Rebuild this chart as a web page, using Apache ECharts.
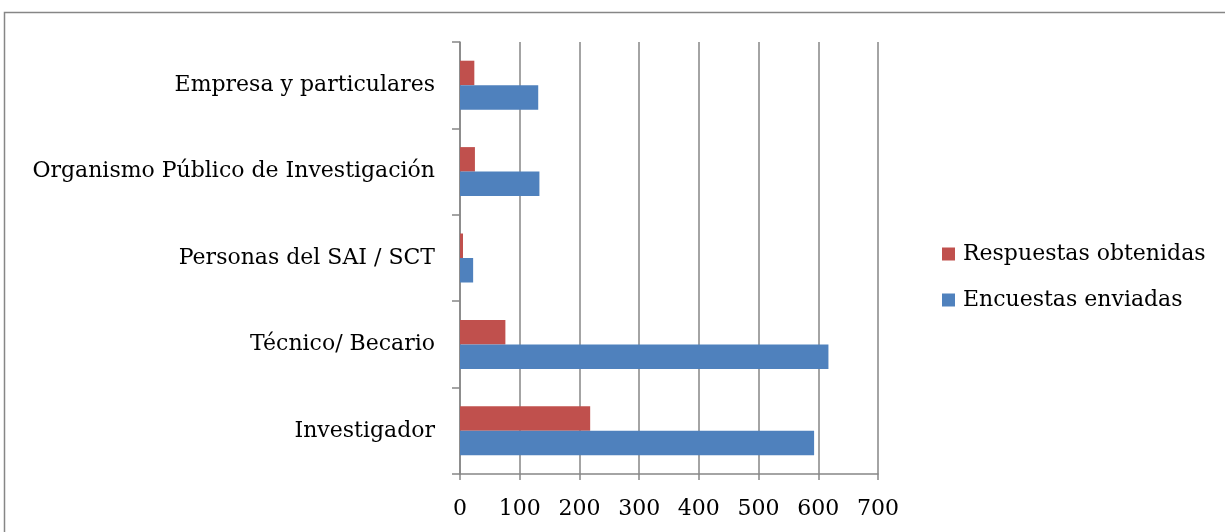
<!DOCTYPE html>
<html><head><meta charset="utf-8">
<script src="https://cdn.jsdelivr.net/npm/echarts@6/dist/echarts.min.js"></script>
<style>html,body{margin:0;padding:0;background:#fff}#c{width:1225px;height:532px}</style>
</head><body><div id="c"></div>
<script>
const categories = ['Investigador', 'Técnico/ Becario', 'Personas del SAI / SCT', 'Organismo Público de Investigación', 'Empresa y particulares'];
const respuestas = [218, 76, 5, 25, 24];
const encuestas = [593, 617, 22, 133, 131];
const xTicks = [0, 700, 100];

const chart = echarts.init(document.getElementById('c'), null, {renderer: 'canvas'});
const font = 'DejaVu Serif';
const grey = '#868686';
chart.setOption({
  animation: false,
  graphic: [{type: 'rect', shape: {x: 4.5, y: 12.5, width: 1400, height: 700}, style: {fill: 'none', stroke: grey, lineWidth: 1.5}}],
  legend: {
    orient: 'vertical', left: 937, top: 238, itemGap: 24, itemWidth: 13, itemHeight: 13,
    icon: 'rect',
    textStyle: {fontFamily: font, fontSize: 22, color: '#000', padding: [0, 0, 0, 3]},
    data: ['Respuestas obtenidas', 'Encuestas enviadas']
  },
  grid: {left: 460, right: 347, top: 42, bottom: 58, containLabel: false},
  xAxis: {
    type: 'value', min: xTicks[0], max: xTicks[1], interval: xTicks[2],
    axisLine: {show: true, lineStyle: {color: grey, width: 1.5}},
    axisTick: {show: true, length: 6, lineStyle: {color: grey, width: 1.5}},
    splitLine: {show: true, lineStyle: {color: grey, width: 1.5}},
    axisLabel: {fontFamily: font, fontSize: 22, color: '#000', margin: 24}
  },
  yAxis: {
    type: 'category', data: categories,
    axisLine: {show: true, lineStyle: {color: grey, width: 1.5}},
    axisTick: {show: true, length: 8, lineStyle: {color: grey, width: 1.5}},
    axisLabel: {fontFamily: font, fontSize: 22, color: '#000', margin: 25, padding: [6, 0, 0, 0]}
  },
  series: [
    {name: 'Respuestas obtenidas', type: 'bar', data: respuestas, barWidth: 24.5, barGap: '0%',
      itemStyle: {color: '#C0504D'}},
    {name: 'Encuestas enviadas', type: 'bar', data: encuestas, barWidth: 24.5, barGap: '0%',
      itemStyle: {color: '#4F81BD'}}
  ]
});
</script></body></html>
